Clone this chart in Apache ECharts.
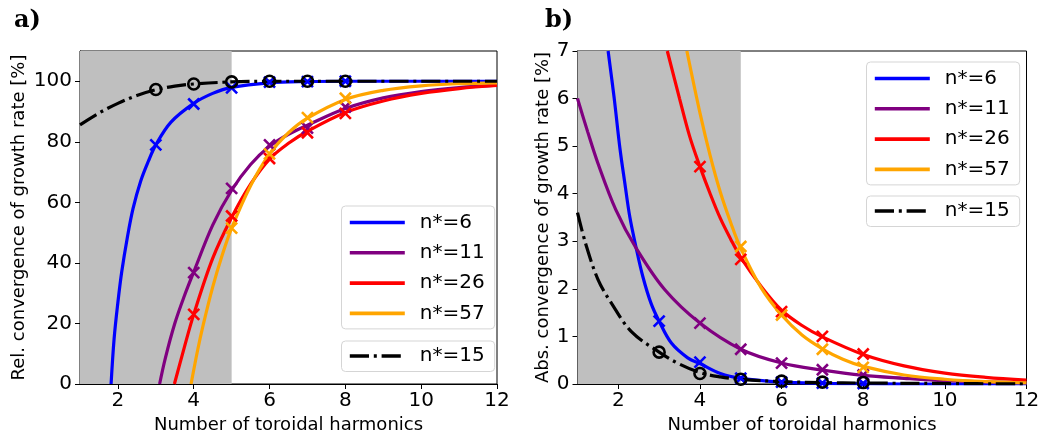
<!DOCTYPE html>
<html>
<head>
<meta charset="utf-8">
<script src="https://cdn.jsdelivr.net/npm/echarts@6/dist/echarts.min.js"></script>
<style>
html,body{margin:0;padding:0;background:#fff;}
#chart{width:1055px;height:438px;}
</style>
</head>
<body>
<div id="chart"></div>
<script>
// ---------- data ----------
const seriesNames = ['n*=6', 'n*=11', 'n*=26', 'n*=57'];
const refName = 'n*=15';
const xTicks = [2, 4, 6, 8, 10, 12];
const yTicksRel = [0, 20, 40, 60, 80, 100];
const shadeRange = [1, 5];

// panel a) relative convergence [%] – fitted curves
const relCurve6 = [[1.82,0],[1.9,15],[2,27],[2.1,37],[2.25,48.5],[2.4,58],[2.6,67],[2.8,73.5],[3,79],[3.4,86.5],[4,92.7],[4.5,96],[5,98],[6,99.5],[7,99.9],[8,100],[10,100],[12,100]];
const relCurve11 = [[3.1,0],[3.25,8.5],[3.5,20],[3.75,29],[4,37],[4.5,52.5],[5,64],[5.5,72.5],[6,78.5],[6.5,82.5],[7,85.5],[8,91],[9,94.5],[10,96.6],[11,97.9],[12,98.7]];
const relCurve26 = [[3.49,0],[3.75,12],[4,23],[4.5,41.5],[5,55],[5.5,66],[6,74.3],[6.5,79.5],[7,83.5],[8,89.7],[9,93.5],[10,96],[11,97.6],[12,98.6]];
const relCurve57 = [[3.93,0],[4.1,11],[4.25,19.5],[4.5,32],[4.75,42.5],[5,51.5],[5.5,65.5],[6,76],[6.5,83],[7,87.8],[8,94],[9,97],[10,98.5],[11,99.2],[12,99.5]];
const relCurve15 = [[1,85.6],[1.5,89.5],[2,92.7],[2.5,95.3],[3,97.2],[3.5,98.4],[4,99.1],[5,99.8],[6,100],[8,100],[12,100]];
// panel a) markers
const relPts6 = [[3,79],[4,92.5],[5,97.8],[6,99.7],[7,99.9],[8,100]];
const relPts11 = [[4,36.8],[5,64.6],[6,79],[7,84.5],[8,91.5]];
const relPts26 = [[4,23],[5,55.5],[6,74.5],[7,83],[8,89.4]];
const relPts57 = [[5,51.5],[6,76],[7,88],[8,94.4]];
const relPts15 = [[3,97.3],[4,99.1],[5,99.8],[6,100],[7,100],[8,100]];

// panel b) absolute convergence [%] – fitted curves
const absCurve6 = [[1.75,7],[1.9,6],[2.04,4.95],[2.16,4.22],[2.28,3.52],[2.44,2.85],[2.6,2.26],[2.8,1.7],[3,1.32],[3.3,0.86],[3.7,0.55],[4,0.43],[4.5,0.22],[5,0.12],[6,0.04],[7,0.015],[8,0.005],[9,0],[12,0]];
const absCurve11 = [[1,6],[1.25,5.3],[1.5,4.64],[1.94,3.66],[2.44,2.85],[3.14,1.98],[4,1.28],[5,0.73],[6,0.44],[7,0.29],[8,0.18],[9,0.12],[10,0.07],[11,0.045],[12,0.03]];
const absCurve26 = [[3.2,7],[3.5,6.0],[3.75,5.2],[4,4.57],[4.25,4.0],[4.5,3.48],[4.75,3.05],[5,2.66],[5.5,2.05],[6,1.55],[6.5,1.23],[7,0.99],[8,0.62],[9,0.38],[10,0.23],[11,0.14],[12,0.08]];
const absCurve57 = [[3.68,7],[4,5.7],[4.25,4.8],[4.5,4.03],[4.75,3.4],[5,2.85],[5.5,2.02],[6,1.45],[6.5,1.03],[7,0.74],[7.5,0.52],[8,0.37],[9,0.19],[10,0.1],[11,0.05],[12,0.025]];
const absCurve15 = [[1,3.6],[1.2,2.95],[1.5,2.2],[1.83,1.7],[2.32,1.1],[3,0.67],[3.47,0.43],[4,0.24],[4.5,0.15],[5,0.1],[6,0.05],[7,0.03],[8,0.02],[10,0.01],[12,0]];
// panel b) markers
const absPts6 = [[3,1.32],[4,0.46],[5,0.12],[6,0.04],[7,0.02],[8,0.01]];
const absPts11 = [[4,1.28],[5,0.73],[6,0.44],[7,0.3],[8,0.19]];
const absPts26 = [[4,4.57],[5,2.62],[6,1.52],[7,1.0],[8,0.63]];
const absPts57 = [[5,2.89],[6,1.45],[7,0.73],[8,0.35]];
const absPts15 = [[3,0.67],[4,0.22],[5,0.1],[6,0.06],[7,0.04],[8,0.03]];

// ---------- styling ----------
const colors = ['#0000ff', '#800080', '#ff0000', '#ffa500'];
const FONT = 'DejaVu Sans';
const dashDot = [19.2, 4.8, 3, 4.8];
const crossPath = 'path://M0,0L10,10M0,10L10,0';

function curve(name, data, color, idx, dash) {
  return {
    type: 'line', name: name, data: data, xAxisIndex: idx, yAxisIndex: idx,
    symbol: 'none', showSymbol: false, smooth: 0.35, z: 3,
    lineStyle: {color: color, width: 3.2, type: dash || 'solid', cap: 'butt'},
    itemStyle: {color: color},
    emphasis: {disabled: true}, silent: true, animation: false
  };
}
function marks(name, data, color, idx, circle) {
  return {
    type: 'scatter', name: name, data: data, xAxisIndex: idx, yAxisIndex: idx,
    symbol: circle ? 'circle' : crossPath,
    symbolSize: 11, z: 3,
    itemStyle: {color: 'rgba(0,0,0,0)', borderColor: color, borderWidth: 2.6, opacity: 1},
    emphasis: {disabled: true}, silent: true, animation: false
  };
}
function shade(idx) {
  return {
    type: 'line', name: 'shade' + idx, data: [], xAxisIndex: idx, yAxisIndex: idx, z: 1,
    silent: true, animation: false,
    markArea: {silent: true, itemStyle: {color: '#bfbfbf', opacity: 1}, label: {show: false},
      data: [[{xAxis: shadeRange[0]}, {xAxis: shadeRange[1]}]]}
  };
}
function xAx(idx) {
  return {
    type: 'value', gridIndex: idx, min: 1, max: 12,
    name: 'Number of toroidal harmonics', nameLocation: 'middle', nameGap: 31,
    nameTextStyle: {fontFamily: FONT, fontSize: 18, color: '#000'},
    axisLine: {show: true, onZero: false, lineStyle: {color: '#000', width: 1}},
    axisTick: {show: true, length: 5, lineStyle: {color: '#000', width: 1}, customValues: xTicks},
    axisLabel: {fontFamily: FONT, fontSize: 20, color: '#000', margin: 7, customValues: xTicks},
    splitLine: {show: false}
  };
}
function legendBox(names, left, top, extra) {
  return Object.assign({
    show: true, data: names, orient: 'vertical', left: left, top: top,
    itemWidth: 55, itemHeight: 20, itemGap: 10.3,
    padding: [6.5, 10, 5.5, 6.5],
    borderColor: '#d5d5d5', borderWidth: 1, borderRadius: 4,
    backgroundColor: 'rgba(255,255,255,0.85)',
    selectedMode: false,
    itemStyle: {opacity: 0, borderWidth: 0},
    lineStyle: {width: 3.6},
    textStyle: {fontFamily: FONT, fontSize: 20, color: '#000', lineHeight: 20, padding: [0, 0, 0, 10]}
  }, extra || {});
}

const series = [shade(0), shade(1)];
const relCurves = [relCurve6, relCurve11, relCurve26, relCurve57];
const relPts = [relPts6, relPts11, relPts26, relPts57];
const absCurves = [absCurve6, absCurve11, absCurve26, absCurve57];
const absPts = [absPts6, absPts11, absPts26, absPts57];
for (let i = 0; i < 4; i++) {
  series.push(marks('ma' + i, relPts[i], colors[i], 0, false));
  series.push(curve(seriesNames[i], relCurves[i], colors[i], 0));
}
series.push(marks('ma15', relPts15, '#000', 0, true));
series.push(curve(refName, relCurve15, '#000', 0, dashDot));
for (let i = 0; i < 4; i++) {
  series.push(marks('mb' + i, absPts[i], colors[i], 1, false));
  series.push(curve(seriesNames[i], absCurves[i], colors[i], 1));
}
series.push(marks('mb15', absPts15, '#000', 1, true));
series.push(curve(refName, absCurve15, '#000', 1, dashDot));

const option = {
  animation: false,
  backgroundColor: '#fff',
  title: [
    {text: 'a)', left: 14, top: 9, padding: 0, textStyle: {fontFamily: 'DejaVu Serif', fontWeight: 'bold', fontSize: 24, color: '#000'}},
    {text: 'b)', left: 545, top: 9, padding: 0, textStyle: {fontFamily: 'DejaVu Serif', fontWeight: 'bold', fontSize: 24, color: '#000'}}
  ],
  grid: [
    {left: 80, top: 51, width: 417, height: 333, show: true, borderColor: '#000', borderWidth: 1, backgroundColor: 'transparent', containLabel: false, outerBoundsMode: 'none'},
    {left: 577.5, top: 51, width: 449, height: 333, show: true, borderColor: '#000', borderWidth: 1, backgroundColor: 'transparent', containLabel: false, outerBoundsMode: 'none'}
  ],
  xAxis: [xAx(0), xAx(1)],
  yAxis: [
    {type: 'value', gridIndex: 0, min: 0, max: 110,
      name: 'Rel. convergence of growth rate [%]', nameLocation: 'middle', nameGap: 52,
      nameTextStyle: {fontFamily: FONT, fontSize: 18, color: '#000'},
      axisLine: {show: true, onZero: false, lineStyle: {color: '#000', width: 1}},
      axisTick: {show: true, length: 5, lineStyle: {color: '#000'}, customValues: yTicksRel},
      axisLabel: {fontFamily: FONT, fontSize: 20, color: '#000', margin: 8, customValues: yTicksRel},
      splitLine: {show: false}},
    {type: 'value', gridIndex: 1, min: 0, max: 7, interval: 1,
      name: 'Abs. convergence of growth rate [%]', nameLocation: 'middle', nameGap: 25,
      nameTextStyle: {fontFamily: FONT, fontSize: 18, color: '#000'},
      axisLine: {show: true, onZero: false, lineStyle: {color: '#000', width: 1}},
      axisTick: {show: true, length: 5, lineStyle: {color: '#000'}},
      axisLabel: {fontFamily: FONT, fontSize: 20, color: '#000', margin: 8},
      splitLine: {show: false}}
  ],
  legend: [
    legendBox(seriesNames, 341.5, 206),
    legendBox([refName], 341.5, 341, {padding: [5, 10, 5.5, 6.5]}),
    legendBox(seriesNames, 866.5, 62),
    legendBox([refName], 866.5, 196, {padding: [5, 10, 5.5, 6.5]})
  ],
  series: series
};

const chart = echarts.init(document.getElementById('chart'), null, {renderer: 'canvas'});
chart.setOption(option);
</script>
</body>
</html>
